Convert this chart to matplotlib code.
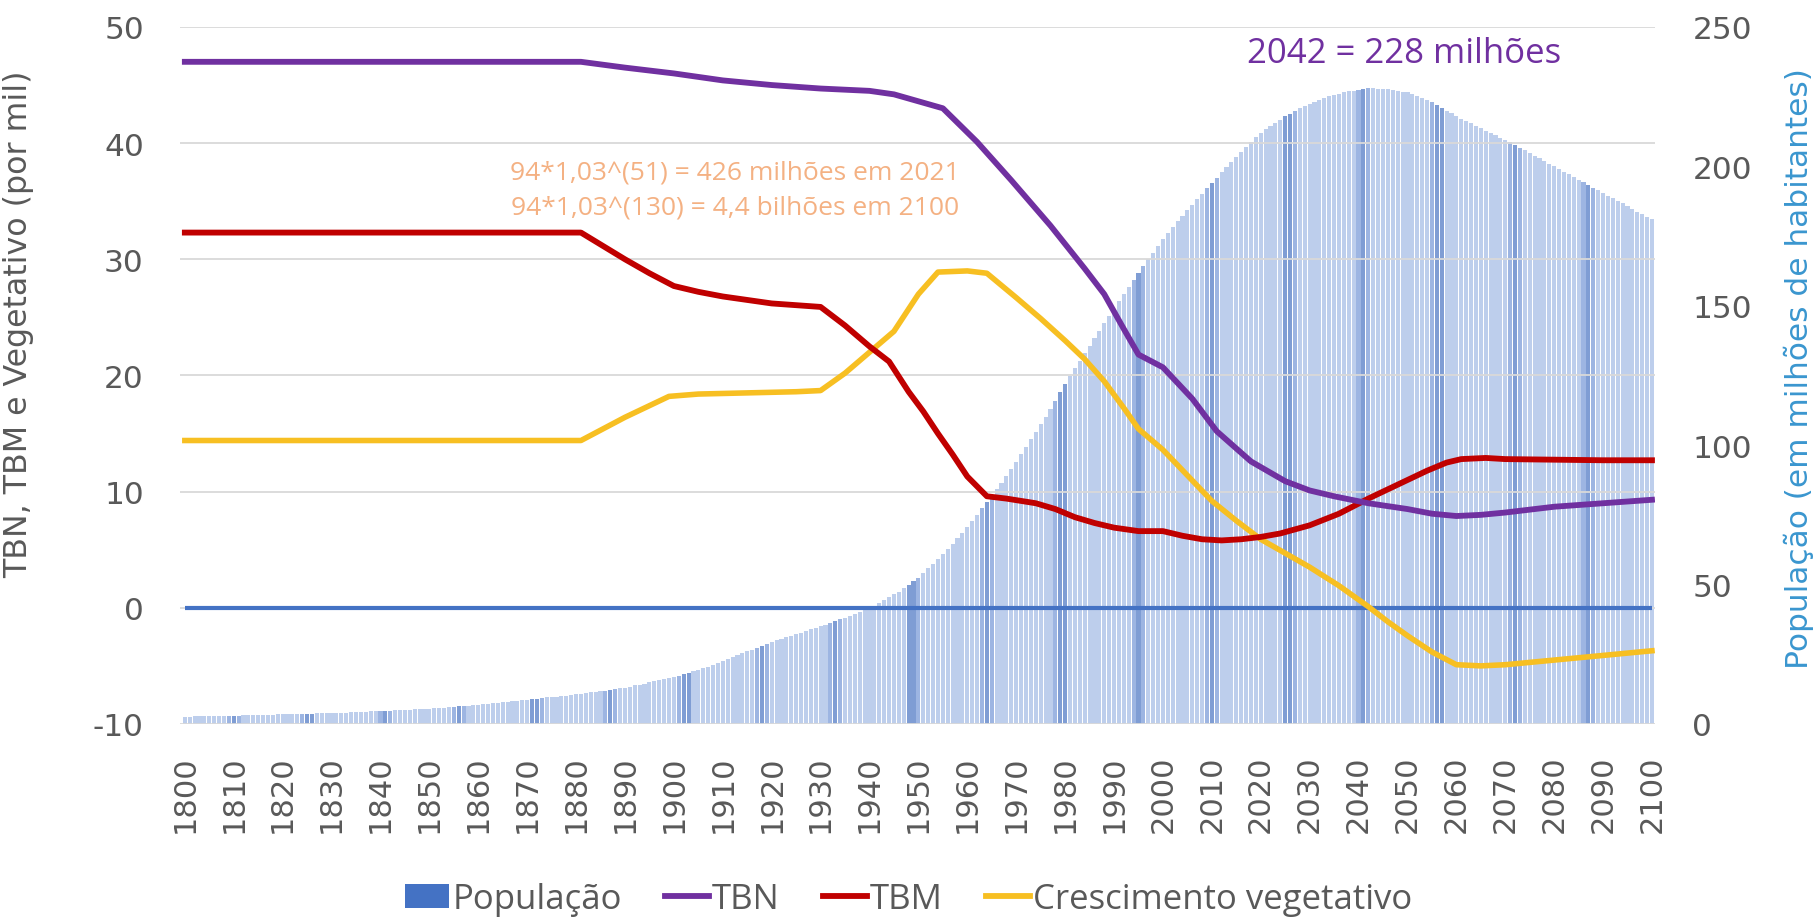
import matplotlib
matplotlib.use("Agg")
import matplotlib.pyplot as plt
from matplotlib.patches import Patch
from matplotlib.lines import Line2D

plt.rcParams["axes.unicode_minus"] = False

# ---------------- data ----------------
years = list(range(1800, 2101))
populacao = [
    2.6, 2.6, 2.7, 2.7, 2.8, 2.8, 2.8, 2.9, 2.9, 3.0,
    3.0, 3.0, 3.1, 3.1, 3.2, 3.2, 3.2, 3.3, 3.3, 3.4,
    3.4, 3.5, 3.5, 3.6, 3.6, 3.7, 3.7, 3.8, 3.8, 3.9,
    3.9, 4.0, 4.0, 4.1, 4.2, 4.2, 4.3, 4.4, 4.5, 4.5,
    4.6, 4.7, 4.8, 4.9, 5.0, 5.0, 5.1, 5.2, 5.3, 5.4,
    5.5, 5.6, 5.8, 5.9, 6.0, 6.1, 6.3, 6.4, 6.5, 6.7,
    6.8, 7.0, 7.2, 7.4, 7.6, 7.7, 7.9, 8.1, 8.3, 8.5,
    8.7, 8.9, 9.1, 9.3, 9.5, 9.6, 9.8, 10.0, 10.2, 10.4,
    10.6, 10.8, 11.1, 11.3, 11.6, 11.8, 12.0, 12.3, 12.5, 12.8,
    13.0, 13.4, 13.8, 14.1, 14.5, 14.9, 15.3, 15.7, 16.0, 16.4,
    16.8, 17.3, 17.8, 18.3, 18.9, 19.4, 20.0, 20.6, 21.2, 21.8,
    22.5, 23.2, 23.9, 24.6, 25.3, 26.0, 26.7, 27.4, 28.1, 28.8,
    29.5, 30.0, 30.6, 31.1, 31.7, 32.2, 32.8, 33.3, 33.9, 34.4,
    35.0, 35.6, 36.2, 36.8, 37.5, 38.1, 38.7, 39.3, 40.0, 40.7,
    41.5, 42.4, 43.4, 44.4, 45.4, 46.5, 47.5, 48.7, 49.9, 51.2,
    52.5, 54.1, 55.8, 57.5, 59.2, 61.0, 62.9, 64.7, 66.6, 68.5,
    70.5, 72.8, 75.1, 77.4, 79.7, 82.0, 84.3, 86.6, 89.0, 91.5,
    94.0, 96.7, 99.4, 102.1, 104.8, 107.5, 110.2, 113.0, 115.8, 118.9,
    122.0, 124.8, 127.6, 130.3, 133.0, 135.7, 138.4, 141.1, 143.8, 146.4,
    149.0, 151.6, 154.2, 156.8, 159.3, 161.8, 164.2, 166.7, 169.1, 171.6,
    174.0, 176.1, 178.2, 180.3, 182.3, 184.3, 186.3, 188.3, 190.2, 192.1,
    194.0, 195.9, 197.8, 199.7, 201.6, 203.5, 205.3, 207.0, 208.7, 210.4,
    212.0, 213.3, 214.5, 215.7, 216.8, 217.9, 218.9, 219.9, 220.8, 221.7,
    222.5, 223.2, 223.9, 224.5, 225.1, 225.6, 226.1, 226.5, 226.9, 227.2,
    227.5, 227.8, 228.0, 228.0, 227.9, 227.8, 227.6, 227.4, 227.1, 226.8,
    226.5, 226.0, 225.4, 224.7, 223.9, 223.0, 222.0, 221.0, 220.0, 219.0,
    218.0, 217.1, 216.2, 215.4, 214.6, 213.7, 212.8, 212.0, 211.1, 210.3,
    209.5, 208.6, 207.6, 206.7, 205.7, 204.8, 203.8, 202.9, 201.9, 201.0,
    200.0, 199.0, 198.1, 197.1, 196.2, 195.2, 194.3, 193.3, 192.4, 191.4,
    190.5, 189.5, 188.6, 187.6, 186.7, 185.7, 184.8, 183.8, 182.9, 181.9,
    181.0,
]

tbn_years = [1800, 1881, 1890, 1900, 1910, 1920, 1930, 1940, 1945, 1950, 1955,
             1962, 1969, 1977, 1984, 1988, 1992, 1995, 2000, 2006, 2011, 2018,
             2025, 2030, 2035, 2042, 2050, 2055, 2060, 2065, 2070, 2080, 2090, 2100]
tbn = [47.0, 47.0, 46.5, 46.0, 45.4, 45.0, 44.7, 44.5, 44.2, 43.6, 43.0,
       40.1, 36.8, 32.9, 29.2, 27.0, 24.0, 21.8, 20.7, 18.0, 15.2, 12.6,
       10.9, 10.1, 9.6, 9.0, 8.5, 8.1, 7.9, 8.0, 8.2, 8.7, 9.0, 9.3]

tbm_years = [1800, 1881, 1890, 1895, 1900, 1905, 1910, 1920, 1930, 1935, 1940, 1944,
             1948, 1951, 1954, 1957, 1960, 1964, 1968, 1974, 1978, 1982, 1986,
             1990, 1995, 2000, 2004, 2008, 2012, 2016, 2020, 2024, 2030, 2036,
             2042, 2048, 2054, 2058, 2061, 2066, 2070, 2080, 2090, 2100]
tbm = [32.3, 32.3, 30.0, 28.8, 27.7, 27.2, 26.8, 26.2, 25.9, 24.3, 22.5, 21.2,
       18.6, 16.9, 15.0, 13.2, 11.3, 9.6, 9.4, 9.0, 8.5, 7.8, 7.3,
       6.9, 6.6, 6.6, 6.2, 5.9, 5.8, 5.9, 6.1, 6.4, 7.1, 8.1,
       9.4, 10.6, 11.8, 12.5, 12.8, 12.9, 12.8, 12.75, 12.7, 12.7]

cv_years = [1800, 1881, 1890, 1899, 1905, 1915, 1925, 1930, 1935, 1940, 1945,
            1950, 1954, 1960, 1964, 1970, 1975, 1980, 1984, 1988, 1992, 1995,
            2000, 2005, 2010, 2015, 2020, 2025, 2030, 2036, 2042, 2046, 2050,
            2055, 2060, 2065, 2070, 2080, 2090, 2100]
cv = [14.4, 14.4, 16.4, 18.2, 18.4, 18.5, 18.6, 18.7, 20.2, 22.0, 23.8,
      27.0, 28.9, 29.0, 28.8, 26.7, 24.9, 23.0, 21.4, 19.5, 17.2, 15.4,
      13.6, 11.4, 9.2, 7.5, 5.9, 4.7, 3.5, 1.9, 0.1, -1.2, -2.4,
      -3.8, -4.9, -5.0, -4.9, -4.5, -4.1, -3.7]

zero_span = [1800, 2100]

legend_labels = ["População", "TBN", "TBM", "Crescimento vegetativo"]
ylabel_left = "TBN, TBM e Vegetativo (por mil)"
ylabel_right = "População (em milhões de habitantes)"
note_1 = "94*1,03^(51) = 426 milhões em 2021"
note_2 = "94*1,03^(130) = 4,4 bilhões em 2100"
note_peak = "2042 = 228 milhões"

# ---------------- style ----------------
GREY = "#595959"
PURPLE = "#7030A0"
RED = "#C00000"
YELLOW = "#F7BF22"
BLUE = "#4472C4"

fig = plt.figure(figsize=(18.14, 9.2), dpi=100)
ax = fig.add_axes([0.0992, 0.2120, 0.8131, 0.7576])
ax2 = ax.twinx()
ax.set_zorder(ax2.get_zorder() + 1)
ax.patch.set_visible(False)

# bar shading imitating the striped look of the original rendering
bar_colors = []
for y in years:
    d = abs(((y - 1810) / 15.4 + 0.5) % 1.0 - 0.5) * 15.4
    if d < 0.8:
        bar_colors.append("#7F9DD4")
    elif d < 1.5:
        bar_colors.append("#9DB5E2")
    else:
        bar_colors.append("#BDCEEC")

ax2.bar(years, populacao, width=0.84, color=bar_colors, linewidth=0)
ax2.set_ylim(0, 250)
ax2.set_yticks(range(0, 251, 50))

ax.set_ylim(-10, 50)
ax.set_xlim(1799, 2100.6)
ax.set_yticks(range(-10, 51, 10))
ax.set_xticks(range(1800, 2101, 10))
ax.set_xticklabels([str(v) for v in range(1800, 2101, 10)], rotation=90)
ax.grid(axis="y", color="#D9D9D9", linewidth=1.3)
ax.grid(axis="x", visible=False)

for a in (ax, ax2):
    for s in a.spines.values():
        s.set_visible(False)

ax.tick_params(axis="y", length=0, pad=26, labelsize=22.5, labelcolor=GREY)
ax.tick_params(axis="x", length=0, pad=22, labelsize=22, labelcolor=GREY)
ax2.tick_params(axis="y", length=0, pad=27, labelsize=22.5, labelcolor=GREY)

ax.hlines(0, zero_span[0], zero_span[1], color=BLUE, linewidth=3.0, zorder=3)
ax.plot(cv_years, cv, color=YELLOW, linewidth=4.0, solid_joinstyle="round", zorder=4)
ax.plot(tbm_years, tbm, color=RED, linewidth=4.2, solid_joinstyle="round", zorder=5)
ax.plot(tbn_years, tbn, color=PURPLE, linewidth=4.2, solid_joinstyle="round", zorder=6)

ax.set_ylabel(ylabel_left, fontsize=22.8, color=GREY)
ax.yaxis.set_label_coords(-0.099, 0.575)
ax2.set_ylabel(ylabel_right, fontsize=22.5, color="#3A96CF")
ax2.yaxis.set_label_coords(1.0875, 0.512)

fig.text(735 / 1814, 1 - 173 / 920, note_1, family="Open Sans", fontsize=19,
         color="#F4B183", ha="center", va="center")
fig.text(735 / 1814, 1 - 208 / 920, note_2, family="Open Sans", fontsize=19,
         color="#F4B183", ha="center", va="center")
fig.text(1404 / 1814, 1 - 54 / 920, note_peak, family="Open Sans", fontsize=25,
         color=PURPLE, ha="center", va="center")

handles = [Patch(facecolor=BLUE, edgecolor="none"),
           Line2D([], [], color=PURPLE, linewidth=4.2),
           Line2D([], [], color=RED, linewidth=4.2),
           Line2D([], [], color=YELLOW, linewidth=4.2)]
fig.legend(handles, legend_labels, loc="center", bbox_to_anchor=(909 / 1814, 1 - 900 / 920),
           ncol=4, frameon=False, prop={"family": "Open Sans", "size": 25},
           handlelength=1.25, handletextpad=0.1, columnspacing=1.25, labelcolor=GREY)

fig.savefig("out.png", dpi=100, facecolor="white")
